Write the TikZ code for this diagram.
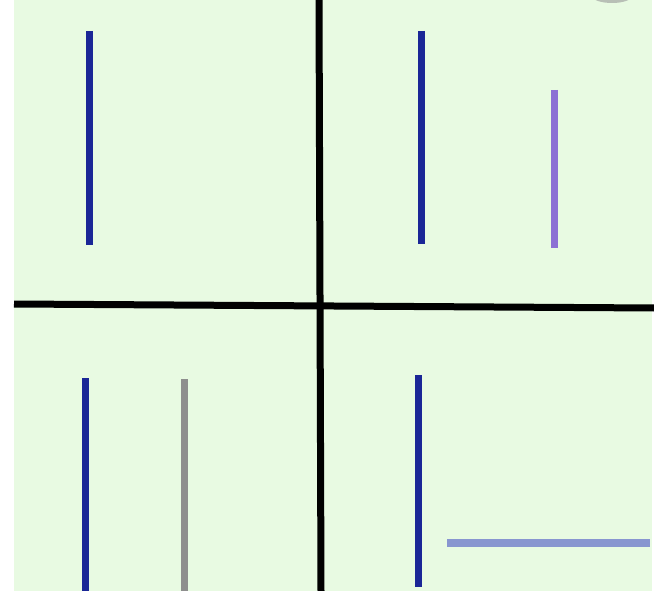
\documentclass[tikz,border=0pt]{standalone}
\usepackage{tikz}
\usetikzlibrary{positioning}
\definecolor{bgmint}{RGB}{232,250,226}
\definecolor{darkblue}{RGB}{26,38,150}
\definecolor{lilac}{RGB}{140,112,212}
\definecolor{midgray}{RGB}{142,142,142}
\definecolor{paleblue}{RGB}{136,150,208}

\begin{document}
\begin{tikzpicture}[
  x=1pt, y=-1pt,
  axis/.style={line width=7pt, black},
  bar/.style={line width=7pt, darkblue},
  cmp/.style={line width=7pt}
]
\useasboundingbox (0,0) rectangle (654,591);
\fill[white] (0,0) rectangle (654,591);
\fill[bgmint] (14,0) rectangle (652,591);
% shadow at the top right
\begin{scope}
  \clip (14,0) rectangle (652,591);
  \fill[gray!80, opacity=0.6] (612,-4) ellipse (20pt and 7pt);
\end{scope}
% cross
\coordinate (vtop) at (319,0);
\coordinate (vbot) at (321,591);
\coordinate (hleft) at (14,304);
\coordinate (hright) at (654,308);
\draw[axis] (vtop) -- (vbot);
\draw[axis] (hleft) -- (hright);
% top left
\coordinate (a1) at (89.5,31);
\coordinate (a2) at (89.5,245);
\draw[bar] (a1) -- (a2);
% top right
\coordinate (b1) at (421,31);
\coordinate (b2) at (421,244);
\coordinate (c1) at (554,90);
\coordinate (c2) at (554,248);
\draw[bar] (b1) -- (b2);
\draw[cmp, lilac] (c1) -- (c2);
% bottom left
\coordinate (d1) at (85,378);
\coordinate (d2) at (85,591);
\coordinate (e1) at (184.5,379);
\coordinate (e2) at (184.5,591);
\draw[bar] (d1) -- (d2);
\draw[cmp, midgray] (e1) -- (e2);
% bottom right
\coordinate (f1) at (418,375);
\coordinate (f2) at (418,587);
\coordinate (g1) at (447,543);
\coordinate (g2) at (650,543);
\draw[bar] (f1) -- (f2);
\draw[cmp, paleblue, line width=7.5pt] (g1) -- (g2);
\end{tikzpicture}
\end{document}
